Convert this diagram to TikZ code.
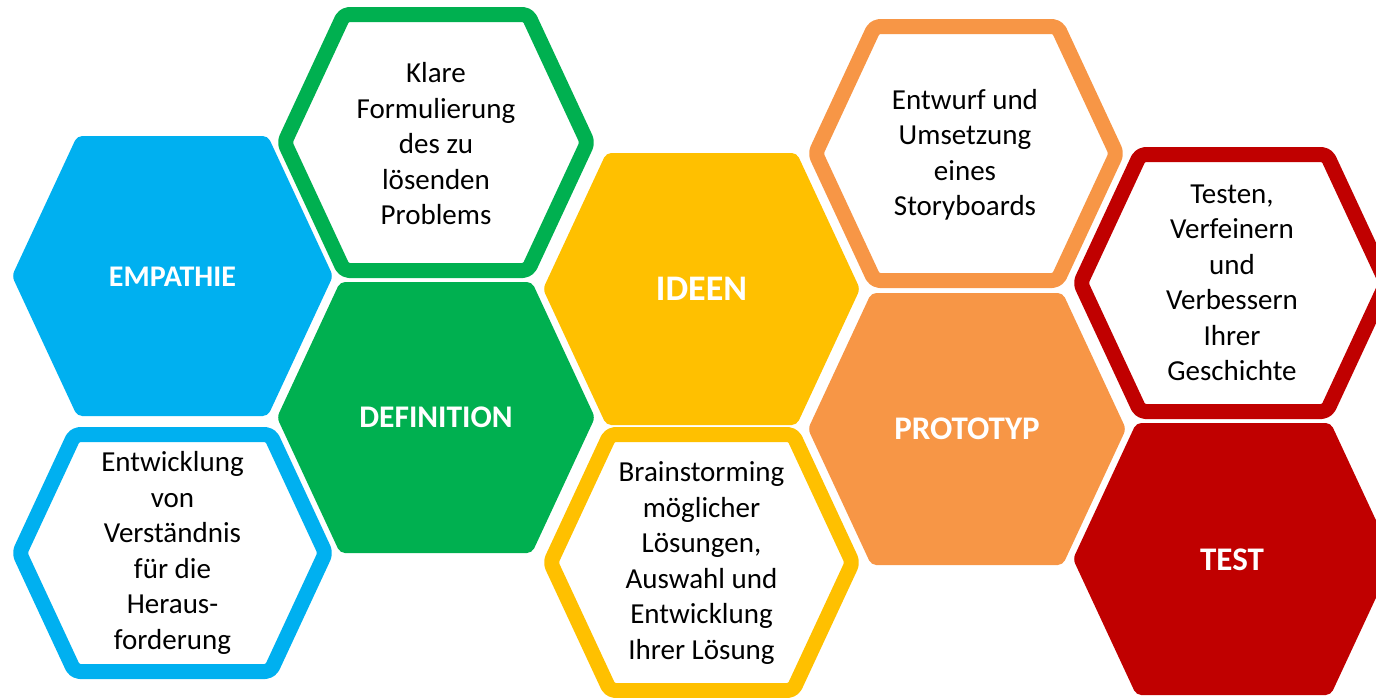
\documentclass[tikz,border=0pt]{standalone}
\usepackage{fontspec}
\setmainfont{Carlito}
\definecolor{hblue}{HTML}{00B0F0}
\definecolor{hgreen}{HTML}{00B050}
\definecolor{hyellow}{HTML}{FFC000}
\definecolor{horange}{HTML}{F79646}
\definecolor{hred}{HTML}{C00000}
% #1 style, #2 cx, #3 cy, #4 w, #5 h
\newcommand\myhex[5]{%
  \path[#1] (#2,{#3-#5/2}) -- ({#2+#4/2-#5/4.3},{#3-#5/2}) -- ({#2+#4/2},#3)
    -- ({#2+#4/2-#5/4.3},{#3+#5/2}) -- ({#2-#4/2+#5/4.3},{#3+#5/2})
    -- ({#2-#4/2},#3) -- ({#2-#4/2+#5/4.3},{#3-#5/2}) -- cycle;}
\begin{document}
\begin{tikzpicture}[x=1pt,y=-1pt,
  filledhex/.style={fill=#1,rounded corners=5pt},
  ringhex/.style={draw=#1,line width=15pt,line join=round,rounded corners=5pt,fill=white},
  bodytext/.style={align=center,text=black,font=\fontsize{29}{35.5}\selectfont,inner sep=0pt},
  headtext/.style={align=center,text=white,font=\bfseries\fontsize{#1}{#1}\selectfont,inner sep=0pt}]
\useasboundingbox (0,0) rectangle (1376,697);
\clip (0,0) rectangle (1376,697);
% filled hexagons
\myhex{filledhex=hblue}{172.5}{276}{321}{280}
\myhex{filledhex=hgreen}{436}{417.5}{318}{271}
\myhex{filledhex=hyellow}{701.5}{289}{317}{272}
\myhex{filledhex=horange}{967}{429}{318}{272}
\myhex{filledhex=hred}{1233.5}{559}{321}{272}
% outlined hexagons
\myhex{ringhex=hblue}{172.5}{553}{306}{237}
\myhex{ringhex=hgreen}{436}{142.5}{303}{256}
\myhex{ringhex=hyellow}{701.5}{562.5}{302}{256}
\myhex{ringhex=horange}{966}{153.5}{301}{254}
\myhex{ringhex=hred}{1233.5}{283}{306}{257}
% labels
\node[headtext=30] (empathie) at (172.5,277) {EMPATHIE};
\node[headtext=31.5] (definition) at (436,417) {DEFINITION};
\node[headtext=36] (ideen) at (701.5,289) {IDEEN};
\node[headtext=33] (prototyp) at (967,429) {PROTOTYP};
\node[headtext=33] (test) at (1232,560) {TEST};
% texts
\node[bodytext] (t1) at (172.5,553) {Entwicklung\\von\\Verständnis\\für die\\Heraus-\\forderung};
\node[bodytext] (t2) at (436,144) {Klare\\Formulierung\\des zu\\lösenden\\Problems};
\node[bodytext] (t3) at (701.5,563) {Brainstorming\\möglicher\\Lösungen,\\Auswahl und\\Entwicklung\\Ihrer Lösung};
\node[bodytext] (t4) at (965,155) {Entwurf und\\Umsetzung\\eines\\Storyboards};
\node[bodytext] (t5) at (1232,283) {Testen,\\Verfeinern\\und\\Verbessern\\Ihrer\\Geschichte};
\end{tikzpicture}
\end{document}
